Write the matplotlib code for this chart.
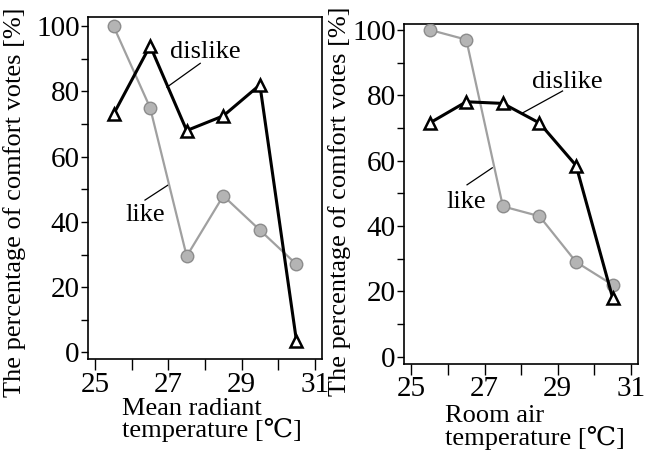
import numpy as np
import matplotlib
matplotlib.use("Agg")
from matplotlib import pyplot as plt

# data
temps = [25.5, 26.5, 27.5, 28.5, 29.5, 30.5]
mrt_like = [100, 75, 29.5, 48, 37.5, 27]
mrt_dislike = [73, 94, 68, 72.5, 82, 3.5]
air_like = [100, 97, 46, 43, 29, 22]
air_dislike = [71.5, 78, 77.5, 71.5, 58.5, 18]

x_ticks = [25, 26, 27, 28, 29, 30, 31]
x_ticklabels = ['25', '', '27', '', '29', '', '31']
y_ticks = [0, 10, 20, 30, 40, 50, 60, 70, 80, 90, 100]
y_ticklabels = ['0', '', '20', '', '40', '', '60', '', '80', '', '100']

plt.rcParams['font.family'] = ['Liberation Serif', 'DejaVu Serif']
fs = 19
fs_tick = 21

fig = plt.figure(figsize=(6.56, 4.53), dpi=100)
ax1 = fig.add_axes([0.134, 0.2075, 0.357, 0.755])
ax2 = fig.add_axes([0.616, 0.1965, 0.357, 0.7506])

panels = [
    (ax1, mrt_like, mrt_dislike, "Mean radiant\ntemperature [\u2103]", 0.145, -0.115, -0.265, 0.458,
     dict(dis_txt=(28.0, 92), dis_from=(27.87, 88.6), dis_to=(26.96, 81.3),
          like_txt=(26.36, 42), like_from=(26.36, 46.7), like_to=(26.99, 51.3)),
     (-2, 102.8)),
    (ax2, air_like, air_dislike, "Room air\ntemperature [\u2103]", 0.175, -0.122, -0.228, 0.48,
     dict(dis_txt=(29.27, 84), dis_from=(29.13, 81.3), dis_to=(28.04, 74.6),
          like_txt=(26.5, 47.3), like_from=(26.52, 52.6), like_to=(27.21, 57.8)),
     (-2.2, 101.8)),
]

for ax, like, dislike, xlab, xlab_x, xlab_y, ylab_x, ylab_y, ann, ylim in panels:
    ax.plot(temps, like, color='#a0a0a0', lw=1.6, marker='o', ms=9,
            mfc='#b4b4b4', mec='#8c8c8c', mew=1.0, zorder=3)
    ax.plot(temps, dislike, color='black', lw=2.2, marker='^', ms=9,
            mfc='white', mec='black', mew=1.8, zorder=4)

    # labels with leader lines
    ax.plot([ann['dis_from'][0], ann['dis_to'][0]], [ann['dis_from'][1], ann['dis_to'][1]],
            color='black', lw=0.9)
    ax.plot([ann['like_from'][0], ann['like_to'][0]], [ann['like_from'][1], ann['like_to'][1]],
            color='black', lw=0.9)
    ax.text(ann['dis_txt'][0], ann['dis_txt'][1], 'dislike', fontsize=fs, ha='center', va='center')
    ax.text(ann['like_txt'][0], ann['like_txt'][1], 'like', fontsize=fs, ha='center', va='center')

    ax.set_xlim(24.8, 31.2)
    ax.set_ylim(*ylim)
    ax.set_xticks(x_ticks)
    ax.set_xticklabels(x_ticklabels, fontsize=fs_tick)
    ax.set_yticks(y_ticks)
    ax.set_yticklabels(y_ticklabels, fontsize=fs_tick)
    ax.tick_params(axis='x', direction='out', length=8, width=1.0, pad=1)
    ax.tick_params(axis='y', direction='out', length=5, width=1.0, pad=1)
    for s in ax.spines.values():
        s.set_linewidth(1.2)

    ax.set_ylabel('The percentage of comfort votes [%]', fontsize=fs)
    ax.yaxis.set_label_coords(ylab_x, ylab_y)
    ax.text(xlab_x, xlab_y, xlab, transform=ax.transAxes, fontsize=fs,
            ha='left', va='top', multialignment='left', linespacing=0.9)

plt.savefig('out.png', dpi=100)
